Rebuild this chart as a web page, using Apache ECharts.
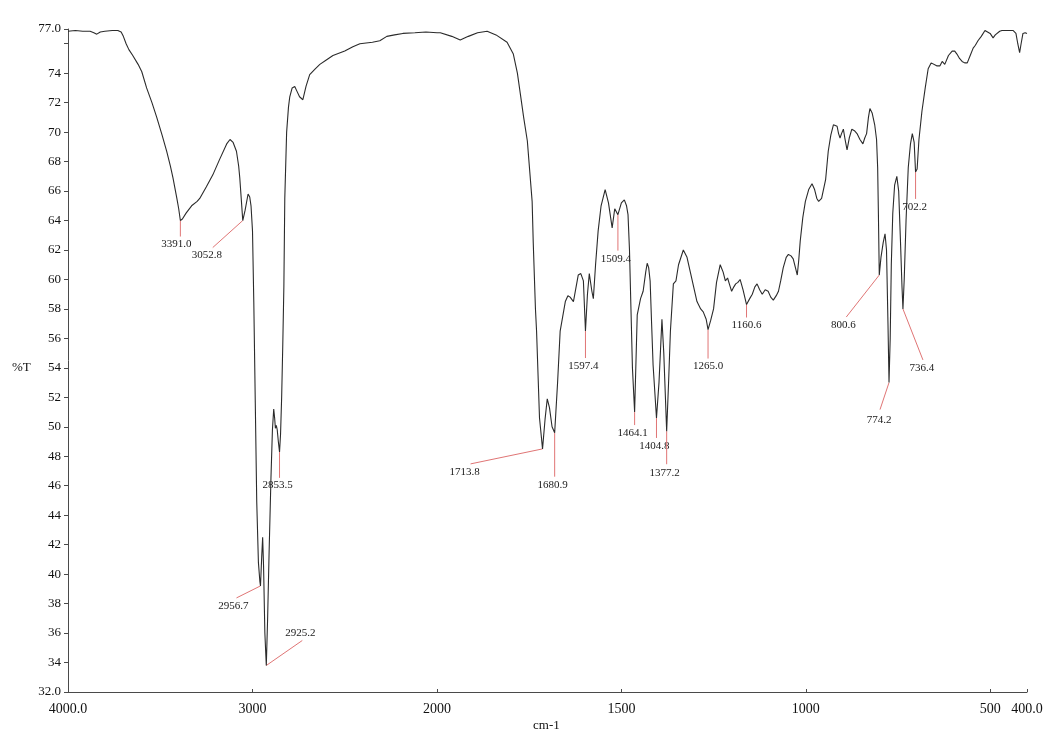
<!DOCTYPE html>
<html>
<head>
<meta charset="utf-8">
<script src="https://cdn.jsdelivr.net/npm/echarts@6/dist/echarts.min.js"></script>
<style>
html,body{margin:0;padding:0;background:#fff;}
#chart{width:1046px;height:734px;}
</style>
</head>
<body>
<div id="chart"></div>
<script>
// ---- Data: 4000–2000 cm-1 region (compressed scale) ----
const wnHigh = [4000,3960,3920,3880,3860,3844,3825,3800,3760,3730,3712,3700,3685,3670,3649,3620,3600,3574,3545,3519,3490,3465,3445,3431,3410,3400,3391,3380,3360,3330,3300,3286,3250,3215,3180,3140,3122,3105,3087,3075,3069,3060,3052.8,3040,3024,3015,3008,3000,2993,2985,2977,2968,2960,2956.7,2950,2945,2940,2933,2925.2,2918,2910,2900,2892,2885,2880,2876,2871,2866,2860,2853.5,2848,2842,2836,2830,2825,2815,2805,2798,2785,2771,2760,2745,2727,2710,2690,2660,2635,2600,2564,2500,2456,2418,2350,2310,2272,2230,2185,2120,2060,2000];
const tHigh = [76.85,76.9,76.85,76.85,76.75,76.65,76.8,76.85,76.9,76.9,76.8,76.5,76.0,75.6,75.2,74.6,74.1,73.0,72.0,71.0,69.8,68.7,67.7,66.9,65.5,64.8,64.0,64.1,64.5,65.0,65.3,65.5,66.3,67.1,68.1,69.2,69.5,69.3,68.7,67.7,66.9,65.3,64.0,64.7,65.8,65.6,65.0,63.3,58.5,51.7,44.9,40.8,39.5,39.2,41.2,42.5,40.5,36.0,33.8,37.0,41.5,46.5,49.8,51.2,50.6,49.9,50.1,49.8,49.0,48.3,49.5,52.0,55.5,59.5,65.5,70.0,71.7,72.4,73.0,73.1,72.8,72.4,72.2,73.1,73.9,74.3,74.6,74.9,75.2,75.5,75.8,76.0,76.1,76.2,76.5,76.6,76.7,76.75,76.8,76.75];

// ---- Data: 2000–400 cm-1 region (expanded scale) ----
const wnLow = [2000,1991,1960,1937,1915,1890,1864,1840,1810,1793,1782,1774,1765,1755,1742,1739,1733,1730,1722,1713.8,1707,1701,1695,1688,1680.9,1673,1666,1652,1645,1639,1630,1617,1610,1603,1597.4,1592,1587,1580,1576,1570,1563,1555,1544,1535,1525,1518,1514,1509.4,1500,1492,1486,1482,1478,1474,1470,1464.1,1457,1448,1441,1434,1430,1426,1422,1418,1414,1404.8,1398,1390,1385,1377.2,1372,1367,1359,1352,1345,1332,1322,1313,1304,1295,1285,1278,1270,1265,1258,1250,1242,1232,1224,1218,1212,1206,1201,1195,1190,1184,1178,1170,1160.6,1152,1145,1138,1132,1125,1118,1110,1102,1095,1088,1080,1074,1068,1061,1053,1047,1040,1034,1028,1023,1019,1015,1008,1001,992,983,976,970,965,961,957,953,946,939,932,925,920,915,911,907,903,898,894,888,882,875,868,861,853,845,840,835,830,826,820,813,808,805,803,800.6,796,790,785,781,777,774.2,771,768,764,759,753,748,743,739,736.4,733,728,722,716,711,706,702.2,698,693,685,676,668,660,655,645,636,630,623,613,603,596,590,583,576,569,562,554,546,540,533,524,514,507,500,492,486,481,474,468,455,438,430,425,420,416,411,405,400];
const tLow = [76.75,76.75,76.5,76.25,76.5,76.75,76.85,76.6,76.1,75.3,74.0,72.6,71.0,69.4,65.3,62.5,58.0,56.5,50.6,48.5,50.5,51.9,51.3,50.0,49.6,53.0,56.5,58.5,58.9,58.8,58.5,60.3,60.4,59.9,56.5,59.0,60.4,59.2,58.7,61.0,63.3,65.0,66.1,65.2,63.5,64.8,64.7,64.4,65.2,65.4,65.0,64.4,62.0,58.0,54.0,51.0,57.6,58.7,59.2,60.5,61.1,60.8,59.9,57.0,54.2,50.6,53.0,57.3,55.0,49.7,53.0,56.5,59.7,59.9,61.0,62.0,61.5,60.5,59.5,58.5,58.0,57.8,57.3,56.6,57.2,58.0,59.8,61.0,60.5,59.9,60.1,59.6,59.2,59.5,59.7,59.8,60.0,59.3,58.3,58.7,59.0,59.5,59.7,59.3,59.0,59.3,59.2,58.8,58.6,58.9,59.2,59.9,60.8,61.5,61.7,61.6,61.4,60.8,60.3,61.3,62.6,64.2,65.3,66.1,66.5,66.1,65.5,65.3,65.3,65.5,65.4,66.8,68.7,69.8,70.5,70.6,70.4,69.9,69.6,69.9,70.2,69.6,68.8,69.6,70.2,70.1,69.9,69.5,69.2,69.6,69.9,71.0,71.6,71.3,70.5,69.5,67.6,64.5,60.3,61.5,62.5,63.1,62.0,57.0,53.0,56.0,61.0,64.5,66.4,67.0,66.0,62.5,59.5,58.0,60.0,64.0,67.6,69.2,69.9,69.3,67.3,67.5,69.5,71.4,73.0,74.3,74.7,74.7,74.5,74.5,74.8,74.6,75.2,75.5,75.5,75.3,75.0,74.8,74.7,74.7,75.2,75.7,75.9,76.2,76.5,76.9,76.8,76.7,76.4,76.6,76.7,76.85,76.9,76.9,76.9,76.7,76.0,75.4,76.0,76.7,76.75,76.7];

// ---- Peak annotations ----
const peakLabels = ['3391.0','3052.8','2956.7','2925.2','2853.5','1713.8','1680.9','1597.4','1509.4','1464.1','1404.8','1377.2','1265.0','1160.6','800.6','774.2','736.4','702.2'];
const peakWn = [3391.0,3052.8,2956.7,2925.2,2853.5,1713.8,1680.9,1597.4,1509.4,1464.1,1404.8,1377.2,1265.0,1160.6,800.6,774.2,736.4,702.2];
const peakT = [64.0,64.0,39.2,33.8,48.3,48.5,49.6,56.5,64.4,51.0,50.6,49.7,56.6,58.3,60.3,53.0,58.0,67.3];

// ---- Axis tick values ----
const xTicksHigh = [4000,3000,2000];
const xTicksLow = [1500,1000,500,400];
const yTicks = [32,34,36,38,40,42,44,46,48,50,52,54,56,58,60,62,64,66,68,70,72,74,77];
const yTickMarks = [32,34,36,38,40,42,44,46,48,50,52,54,56,58,60,62,64,66,68,70,72,74,76,77];

// ---- Callout layout (pixel offsets from the peak: line end dx,dy ; text centre tx,ty) ----
const calloutLayout = [
  [0,16,-4,24],[-30,27,-36,35],[-24,12,-27,20],[36,-25,34,-32],[0,26,-2,33],
  [-72,15,-78,23],[0,44,-2,52],[0,27,-2,35],[0,36,-2,44],[0,13,-2,21],
  [0,20,-2,28],[0,33,-2,42],[0,29,0,37],[0,13,0,21],[-33,42,-36,50],
  [-9,27,-10,38],[20,51,19,59],[0,27,-1,35]
];

const FONT = '"Liberation Serif","Times New Roman",serif';
const chart = echarts.init(document.getElementById('chart'), null, {renderer:'canvas'});

const highData = wnHigh.map((w,i)=>[w,tHigh[i]]);
const lowData = wnLow.map((w,i)=>[w,tLow[i]]);
const calloutHigh = [], calloutLow = [];
peakWn.forEach((w,i)=>{ (w>=2000?calloutHigh:calloutLow).push([w,peakT[i],i]); });

function renderCallout(params, api){
  const i = api.value(2);
  const p = api.coord([api.value(0), api.value(1)]);
  const L = calloutLayout[i];
  return {type:'group', children:[
    {type:'line', shape:{x1:p[0],y1:p[1],x2:p[0]+L[0],y2:p[1]+L[1]}, style:{stroke:'#e07575',lineWidth:1}},
    {type:'text', x:p[0]+L[2], y:p[1]+L[3], style:{text:peakLabels[i], textAlign:'center', textVerticalAlign:'middle', font:'11px '+FONT, fill:'#1a1a1a'}}
  ]};
}

const xFmt = v => (v===4000||v===400) ? v.toFixed(1) : String(v);
const yFmt = v => (v===32||v===77) ? v.toFixed(1) : String(v);

const axisLineStyle = {color:'#4a4a4a', width:1};

const option = {
  animation:false,
  backgroundColor:'#ffffff',
  grid:[
    {left:68, top:29, width:369, height:663},
    {left:437, top:29, width:590, height:663}
  ],
  xAxis:[
    {type:'value', gridIndex:0, min:2000, max:4000, inverse:true,
     axisLine:{lineStyle:axisLineStyle},
     axisTick:{show:true, inside:true, length:3, customValues:xTicksHigh, lineStyle:axisLineStyle},
     axisLabel:{customValues:xTicksHigh, formatter:xFmt, margin:10, color:'#111', fontFamily:FONT, fontSize:14},
     splitLine:{show:false}},
    {type:'value', gridIndex:1, min:400, max:2000, inverse:true,
     axisLine:{lineStyle:axisLineStyle},
     axisTick:{show:true, inside:true, length:3, customValues:xTicksLow, lineStyle:axisLineStyle},
     axisLabel:{customValues:xTicksLow, formatter:xFmt, margin:10, color:'#111', fontFamily:FONT, fontSize:14},
     splitLine:{show:false}}
  ],
  yAxis:[
    {type:'value', gridIndex:0, min:32, max:77,
     axisLine:{show:true, lineStyle:axisLineStyle},
     axisTick:{show:true, length:4, customValues:yTickMarks, lineStyle:axisLineStyle},
     axisLabel:{customValues:yTicks, formatter:yFmt, margin:7, color:'#111', fontFamily:FONT, fontSize:13},
     splitLine:{show:false}},
    {type:'value', gridIndex:1, min:32, max:77, show:false, splitLine:{show:false}}
  ],
  graphic:[
    {type:'text', left:12, top:361, style:{text:'%T', font:'13px '+FONT, fill:'#111'}},
    {type:'text', left:533, top:719, style:{text:'cm-1', font:'13px '+FONT, fill:'#111'}}
  ],
  series:[
    {type:'line', xAxisIndex:0, yAxisIndex:0, data:highData, showSymbol:false, symbol:'none',
     lineStyle:{color:'#2b2b2b', width:1.1}, silent:true, z:3},
    {type:'line', xAxisIndex:1, yAxisIndex:1, data:lowData, showSymbol:false, symbol:'none',
     lineStyle:{color:'#2b2b2b', width:1.1}, silent:true, z:3},
    {type:'custom', xAxisIndex:0, yAxisIndex:0, data:calloutHigh, renderItem:renderCallout, silent:true, z:2},
    {type:'custom', xAxisIndex:1, yAxisIndex:1, data:calloutLow, renderItem:renderCallout, silent:true, z:2}
  ]
};
chart.setOption(option);
</script>
</body>
</html>
